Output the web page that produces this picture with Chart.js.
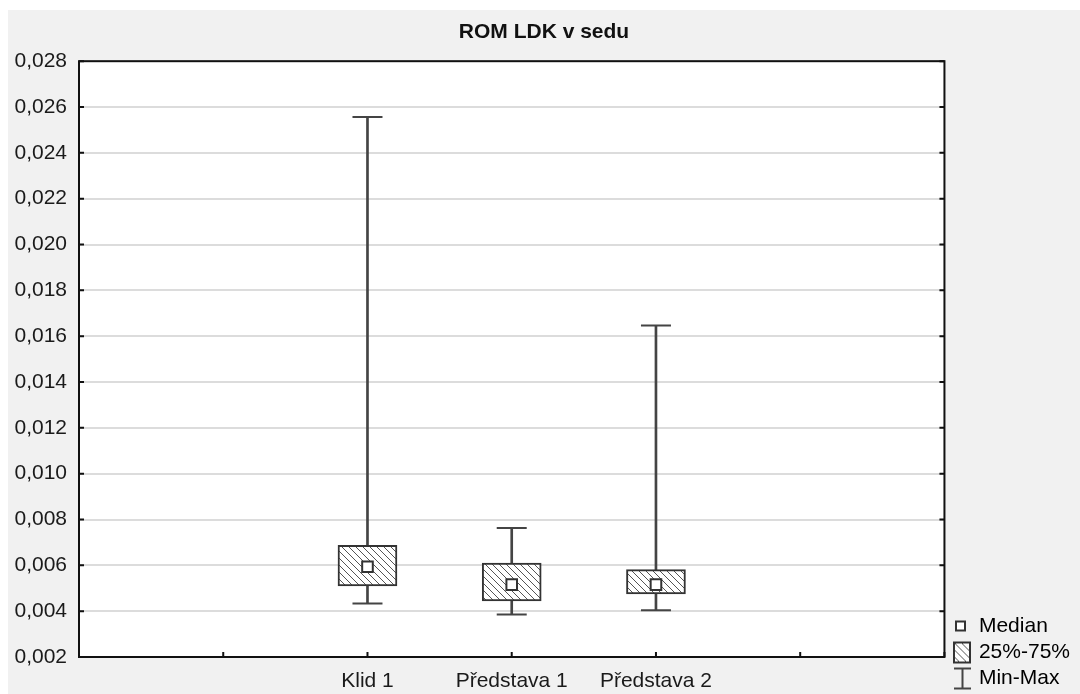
<!DOCTYPE html>
<html>
<head>
<meta charset="utf-8">
<script src="https://cdn.jsdelivr.net/npm/chart.js@4"></script>
<style>
  html, body { margin: 0; padding: 0; background: #fff; }
  #panel { position: absolute; left: 8px; top: 10px; width: 1072px; height: 684px; background: #f1f1f1; }
  canvas { display: block; }
</style>
</head>
<body>
<div id="panel"><canvas id="chart" width="1072" height="684"></canvas></div>
<script>
var categories = ['Klid 1', 'Představa 1', 'Představa 2'];
var minValues = [0.00434, 0.00386, 0.00404];
var q1Values = [0.0051, 0.00445, 0.00475];
var medianValues = [0.00594, 0.00516, 0.00516];
var q3Values = [0.00687, 0.0061, 0.00581];
var maxValues = [0.02556, 0.00763, 0.01647];
var yMin = 0.002;
var yMax = 0.028;
var yStep = 0.002;

// two empty slots on each side, like the original plot
var axisLabels = ['', ''].concat(categories, ['', '']);

function padSeries(values) {
  return [null, null].concat(values, [null, null]);
}

function pointsAt(values) {
  return categories.map(function (c, i) {
    return { x: c, y: values[i] };
  });
}

function makeCanvas(w, h) {
  var c = document.createElement('canvas');
  c.width = w;
  c.height = h;
  return c;
}

function hatchTile() {
  var s = 7;
  var c = makeCanvas(s, s);
  var g = c.getContext('2d');
  g.fillStyle = '#fff';
  g.fillRect(0, 0, s, s);
  g.strokeStyle = '#555';
  g.lineWidth = 1;
  g.beginPath();
  g.moveTo(-1, -1); g.lineTo(s + 1, s + 1);
  g.moveTo(s - 1, -1); g.lineTo(s + 1, 1);
  g.moveTo(-1, s - 1); g.lineTo(1, s + 1);
  g.stroke();
  return c;
}

var canvas = document.getElementById('chart');
var ctx = canvas.getContext('2d');
var hatch = ctx.createPattern(hatchTile(), 'repeat');

// legend icons
var medianIcon = makeCanvas(28, 24);
(function (g) {
  g.fillStyle = '#fff';
  g.fillRect(11, 7, 9, 9);
  g.strokeStyle = '#333';
  g.lineWidth = 2;
  g.strokeRect(11, 7, 9, 9);
})(medianIcon.getContext('2d'));

var boxIcon = makeCanvas(28, 24);
(function (g) {
  g.fillStyle = g.createPattern(hatchTile(), 'repeat');
  g.fillRect(9, 2, 16, 20);
  g.strokeStyle = '#333';
  g.lineWidth = 2;
  g.strokeRect(9, 2, 16, 20);
})(boxIcon.getContext('2d'));

var whiskerIcon = makeCanvas(28, 24);
(function (g) {
  g.strokeStyle = '#444';
  g.lineWidth = 2;
  g.beginPath();
  g.moveTo(9, 2); g.lineTo(26, 2);
  g.moveTo(17.5, 2); g.lineTo(17.5, 22);
  g.moveTo(9, 22); g.lineTo(26, 22);
  g.stroke();
})(whiskerIcon.getContext('2d'));

var plotFrame = {
  id: 'plotFrame',
  beforeDraw: function (chart) {
    var a = chart.chartArea;
    var c = chart.ctx;
    c.save();
    c.fillStyle = '#fff';
    c.fillRect(a.left, a.top, a.right - a.left, a.bottom - a.top);
    c.restore();
  },
  afterDraw: function (chart) {
    var a = chart.chartArea;
    var c = chart.ctx;
    var xs = chart.scales.x;
    var ys = chart.scales.y;
    c.save();
    c.strokeStyle = '#111';
    c.lineWidth = 2;
    c.beginPath();
    ys.ticks.forEach(function (t, i) {
      var py = ys.getPixelForTick(i);
      c.moveTo(a.left, py); c.lineTo(a.left + 5, py);
      c.moveTo(a.right, py); c.lineTo(a.right - 5, py);
    });
    xs.ticks.forEach(function (t, i) {
      var px = xs.getPixelForTick(i);
      c.moveTo(px, a.bottom); c.lineTo(px, a.bottom - 5);
    });
    c.stroke();
    c.strokeRect(a.left, a.top, a.right - a.left, a.bottom - a.top);
    c.restore();
  }
};

Chart.defaults.font.family = '"Liberation Sans", Arial, sans-serif';
Chart.defaults.color = '#1a1a1a';

new Chart(ctx, {
  type: 'bar',
  data: {
    labels: axisLabels,
    datasets: [
      {
        type: 'line',
        label: 'Median',
        data: pointsAt(medianValues),
        showLine: false,
        pointStyle: 'rect',
        pointRadius: 7.5,
        pointBackgroundColor: '#fff',
        pointBorderColor: '#333',
        pointBorderWidth: 2,
        order: 0
      },
      {
        label: '25%-75%',
        data: padSeries(q1Values.map(function (v, i) { return [v, q3Values[i]]; })),
        backgroundColor: hatch,
        borderColor: '#333',
        borderWidth: 2,
        borderSkipped: false,
        barThickness: 59,
        grouped: false,
        order: 1
      },
      {
        label: 'Min-Max',
        data: padSeries(minValues.map(function (v, i) { return [v, maxValues[i]]; })),
        backgroundColor: '#444',
        borderWidth: 0,
        barThickness: 2,
        grouped: false,
        order: 2
      },
      {
        type: 'line',
        label: 'Min',
        data: pointsAt(minValues),
        showLine: false,
        pointStyle: 'line',
        pointRadius: 15,
        pointBorderColor: '#444',
        pointBorderWidth: 2,
        order: 3
      },
      {
        type: 'line',
        label: 'Max',
        data: pointsAt(maxValues),
        showLine: false,
        pointStyle: 'line',
        pointRadius: 15,
        pointBorderColor: '#444',
        pointBorderWidth: 2,
        order: 3
      }
    ]
  },
  options: {
    responsive: false,
    animation: false,
    events: [],
    layout: { padding: { left: 0, right: 0, top: 0, bottom: 0 } },
    scales: {
      x: {
        type: 'category',
        offset: false,
        grid: { display: false },
        border: { display: false },
        ticks: { autoSkip: false, maxRotation: 0, padding: 4, font: { size: 21 } },
        afterFit: function (scale) { scale.height = 37; }
      },
      y: {
        min: yMin,
        max: yMax,
        grid: { color: '#dcdcdc', lineWidth: 2, drawTicks: false },
        border: { display: false },
        ticks: {
          stepSize: yStep,
          padding: 12,
          font: { size: 21 },
          callback: function (v) { return v.toFixed(3).replace('.', ','); }
        },
        afterFit: function (scale) { scale.width = 71; }
      }
    },
    plugins: {
      title: {
        display: true,
        text: 'ROM LDK v sedu',
        color: '#111',
        font: { size: 21, weight: 'bold' },
        padding: { top: 10, bottom: 16 }
      },
      legend: {
        position: 'right',
        align: 'end',
        labels: {
          usePointStyle: true,
          pointStyleWidth: 19,
          padding: 5,
          color: '#1a1a1a',
          font: { size: 21 },
          generateLabels: function () {
            return [
              { text: 'Median', pointStyle: medianIcon, fillStyle: 'transparent', strokeStyle: 'transparent', lineWidth: 0, hidden: false },
              { text: '25%-75%', pointStyle: boxIcon, fillStyle: 'transparent', strokeStyle: 'transparent', lineWidth: 0, hidden: false },
              { text: 'Min-Max', pointStyle: whiskerIcon, fillStyle: 'transparent', strokeStyle: 'transparent', lineWidth: 0, hidden: false }
            ];
          }
        }
      },
      tooltip: { enabled: false }
    }
  },
  plugins: [plotFrame]
});
</script>
</body>
</html>
